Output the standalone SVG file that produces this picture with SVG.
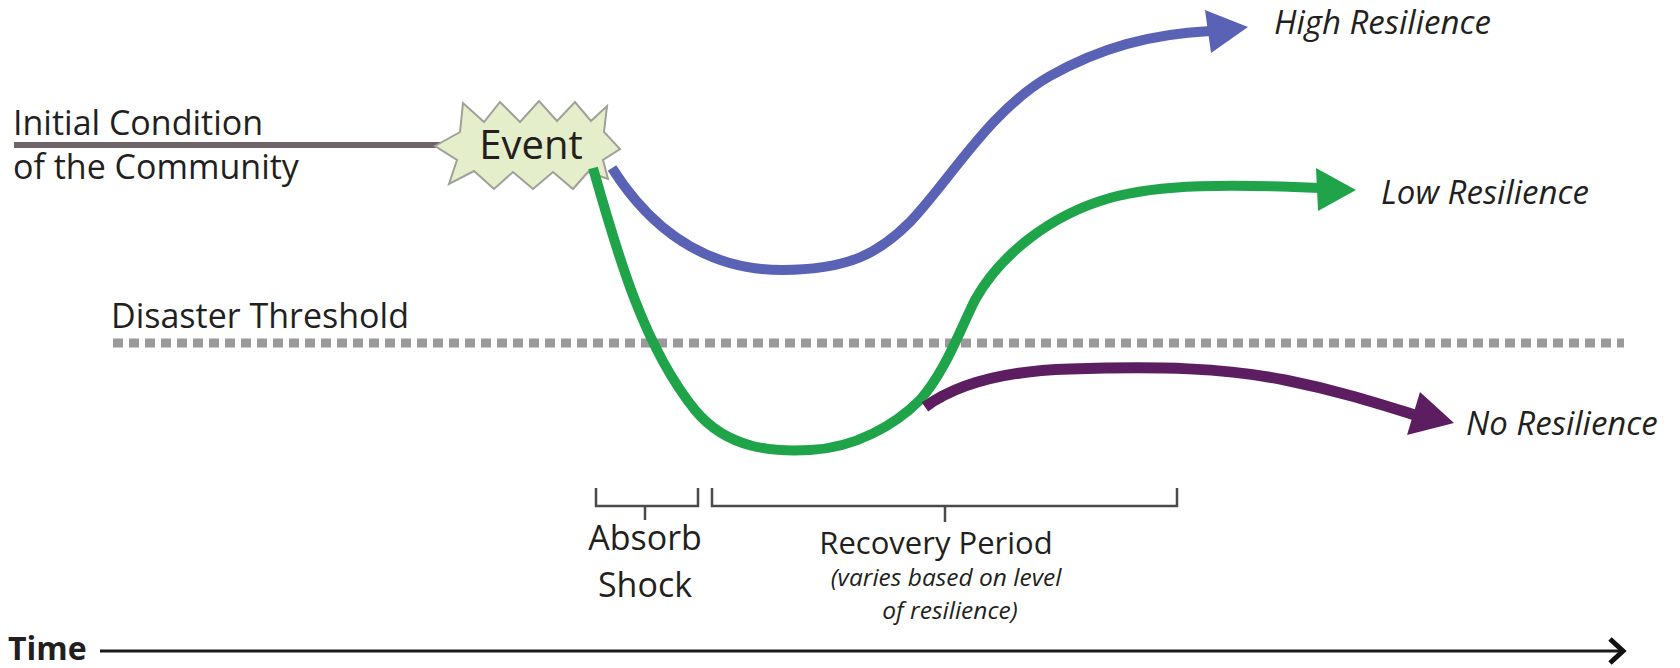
<svg xmlns="http://www.w3.org/2000/svg" width="1680" height="668" viewBox="0 0 1680 668">
<style>
.lbl{font-family:"Open Sans","Noto Sans","Liberation Sans",sans-serif;fill:#231f20}
.big{font-size:34px}
.mid{font-size:31px}
.it{font-style:italic;font-size:33px}
.sm{font-style:italic;font-size:24.5px}
.curve{fill:none;stroke-width:10}
.brk{fill:none;stroke:#4a4a4a;stroke-width:2.5}
.blue{stroke:#5a62b6}.blueF{fill:#5a62b6}
.green{stroke:#1fa44a}.greenF{fill:#1fa44a}
.purple{stroke:#5d1e61;stroke-width:11}.purpleF{fill:#5d1e61}
</style>
<rect width="1680" height="668" fill="#ffffff"/>

<g id="initial-condition">
<line x1="14" y1="145" x2="440" y2="145" stroke="#6f6468" stroke-width="6"/>
<text class="lbl big" x="13" y="135">Initial Condition</text>
<text class="lbl big" x="13" y="179">of the Community</text>
</g>

<g id="disaster-threshold">
<line x1="113" y1="343" x2="1624" y2="343" stroke="#9b999a" stroke-width="9" stroke-dasharray="10 6"/>
<text class="lbl big" x="111" y="328">Disaster Threshold</text>
</g>

<g id="event">
<polygon points="435,146 460,132 463,103 484,122 500,102 520,122 539,101 557,121 575,102 591,121 607,106 604,132 620,149 603,160 608,179 588,172 573,189 553,172 533,189 513,172 494,189 474,171 449,184 457,160" fill="#e5eecb" stroke="#9da197" stroke-width="2" stroke-linejoin="miter"/>
<text class="lbl" x="531" y="159" font-size="40" text-anchor="middle">Event</text>
</g>

<g id="connectors">
<path class="curve blue" d="M612,168 C650,228 705,270 782,270 C850,270 880,252 910,222 C950,180 990,110 1050,76 C1100,48 1150,34 1210,31"/>
<polygon class="blueF" points="1205,10 1248,27 1211,53"/>
<path class="curve green" d="M593,168 C615,245 642,345 695,410 C728,450 775,452 810,450 C855,448 895,425 920,400 C945,372 960,330 975,300 C1000,255 1050,215 1110,198 C1160,184 1230,184 1320,188"/>
<polygon class="greenF" points="1316,168 1356,190 1318,211"/>
<path class="curve purple" d="M925,407 C955,385 1000,371 1070,369 C1160,366 1225,368 1285,380 C1340,391 1380,404 1415,415"/>
<polygon class="purpleF" points="1420,392 1454,423 1407,435"/>
</g>

<g id="high-resilience"><text class="lbl it" x="1274" y="34">High Resilience</text></g>
<g id="low-resilience"><text class="lbl it" x="1381" y="204">Low Resilience</text></g>
<g id="no-resilience"><text class="lbl it" x="1466" y="435">No Resilience</text></g>

<g id="absorb-shock">
<path class="brk" d="M596,488 V506 H698 V488 M645,506 V520"/>
<text class="lbl big" x="645" y="550" text-anchor="middle">Absorb</text>
<text class="lbl big" x="645" y="597" text-anchor="middle">Shock</text>
</g>

<g id="recovery-period">
<path class="brk" d="M712,488 V506 H1177 V488 M945,506 V522"/>
<text class="lbl mid" x="936" y="554" text-anchor="middle">Recovery Period</text>
<text class="lbl sm" x="946" y="586" text-anchor="middle">(varies based on level</text>
<text class="lbl sm" x="950" y="619" text-anchor="middle">of resilience)</text>
</g>

<g id="time-axis">
<text class="lbl" x="8" y="660" font-size="32" font-weight="bold" fill="#000">Time</text>
<line x1="100" y1="651" x2="1622" y2="651" stroke="#1a1a1a" stroke-width="3"/>
<path d="M1610,639 L1623,651 L1610,663" fill="none" stroke="#111" stroke-width="5"/>
</g>
</svg>
